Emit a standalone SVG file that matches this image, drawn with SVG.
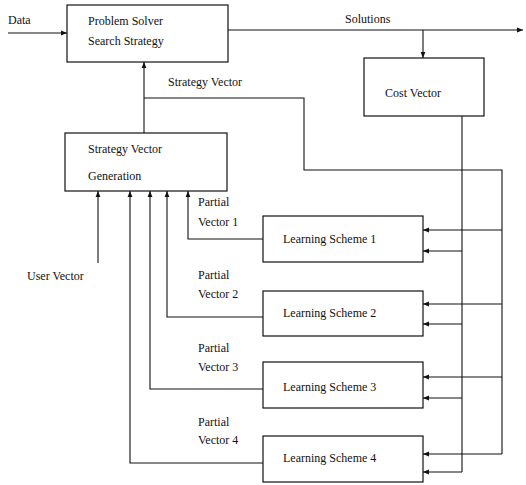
<svg xmlns="http://www.w3.org/2000/svg" width="526" height="485" viewBox="0 0 526 485">
<style>
.box{fill:#fff;stroke:#111;stroke-width:1.2}
.ln{fill:none;stroke:#111;stroke-width:1.1}
text{font-family:"Liberation Serif","Times New Roman",serif;font-size:12px;fill:#111}
</style>
<defs>
<marker id="ah" viewBox="0 0 10 10" refX="10" refY="5" markerWidth="6" markerHeight="6" orient="auto" markerUnits="userSpaceOnUse">
<path d="M0,1 L10,5 L0,9 Z" fill="#111"/>
</marker>
</defs>
<rect width="526" height="485" fill="#fff"/>
<g id="connectors">
<path class="ln" d="M8,33 H67" marker-end="url(#ah)"/>
<path class="ln" d="M228,30 H523" marker-end="url(#ah)"/>
<path class="ln" d="M423,30 V58" marker-end="url(#ah)"/>
<path class="ln" d="M144,133 V62" marker-end="url(#ah)"/>
<path class="ln" d="M144,98 H304 V170 H502 V454"/>
<path class="ln" d="M462,116 V472"/>
<path class="ln" d="M502,230 H423" marker-end="url(#ah)"/>
<path class="ln" d="M462,251 H423" marker-end="url(#ah)"/>
<path class="ln" d="M502,304 H423" marker-end="url(#ah)"/>
<path class="ln" d="M462,324 H423" marker-end="url(#ah)"/>
<path class="ln" d="M502,377 H423" marker-end="url(#ah)"/>
<path class="ln" d="M462,398 H423" marker-end="url(#ah)"/>
<path class="ln" d="M502,454 H423" marker-end="url(#ah)"/>
<path class="ln" d="M462,472 H423" marker-end="url(#ah)"/>
<path class="ln" d="M98,263 V191" marker-end="url(#ah)"/>
<path class="ln" d="M263,239 H188 V191" marker-end="url(#ah)"/>
<path class="ln" d="M263,317 H167 V191" marker-end="url(#ah)"/>
<path class="ln" d="M263,389 H150 V191" marker-end="url(#ah)"/>
<path class="ln" d="M263,463 H130 V191" marker-end="url(#ah)"/>
</g>
<g id="labels">
<text x="8" y="24">Data</text>
<text x="345" y="23">Solutions</text>
<text x="168" y="86">Strategy Vector</text>
<text x="27" y="280">User Vector</text>
<text x="198" y="206">Partial</text>
<text x="198" y="226">Vector 1</text>
<text x="198" y="279">Partial</text>
<text x="198" y="298">Vector 2</text>
<text x="198" y="352">Partial</text>
<text x="198" y="371">Vector 3</text>
<text x="198" y="426">Partial</text>
<text x="198" y="444">Vector 4</text>
</g>
<g id="problem-solver">
<rect class="box" x="67" y="5" width="161" height="57"/>
<text x="88" y="25">Problem Solver</text>
<text x="88" y="45">Search Strategy</text>
</g>
<g id="cost-vector">
<rect class="box" x="364" y="58" width="120" height="58"/>
<text x="385" y="97">Cost Vector</text>
</g>
<g id="strategy-vector-generation">
<rect class="box" x="65" y="133" width="162" height="58"/>
<text x="88" y="153">Strategy Vector</text>
<text x="88" y="180">Generation</text>
</g>
<g id="learning-scheme-1">
<rect class="box" x="263" y="216" width="160" height="46"/>
<text x="283" y="243">Learning Scheme 1</text>
</g>
<g id="learning-scheme-2">
<rect class="box" x="263" y="291" width="160" height="45"/>
<text x="283" y="317">Learning Scheme 2</text>
</g>
<g id="learning-scheme-3">
<rect class="box" x="263" y="362" width="160" height="46"/>
<text x="283" y="391">Learning Scheme 3</text>
</g>
<g id="learning-scheme-4">
<rect class="box" x="263" y="436" width="160" height="46"/>
<text x="283" y="462">Learning Scheme 4</text>
</g>
</svg>
